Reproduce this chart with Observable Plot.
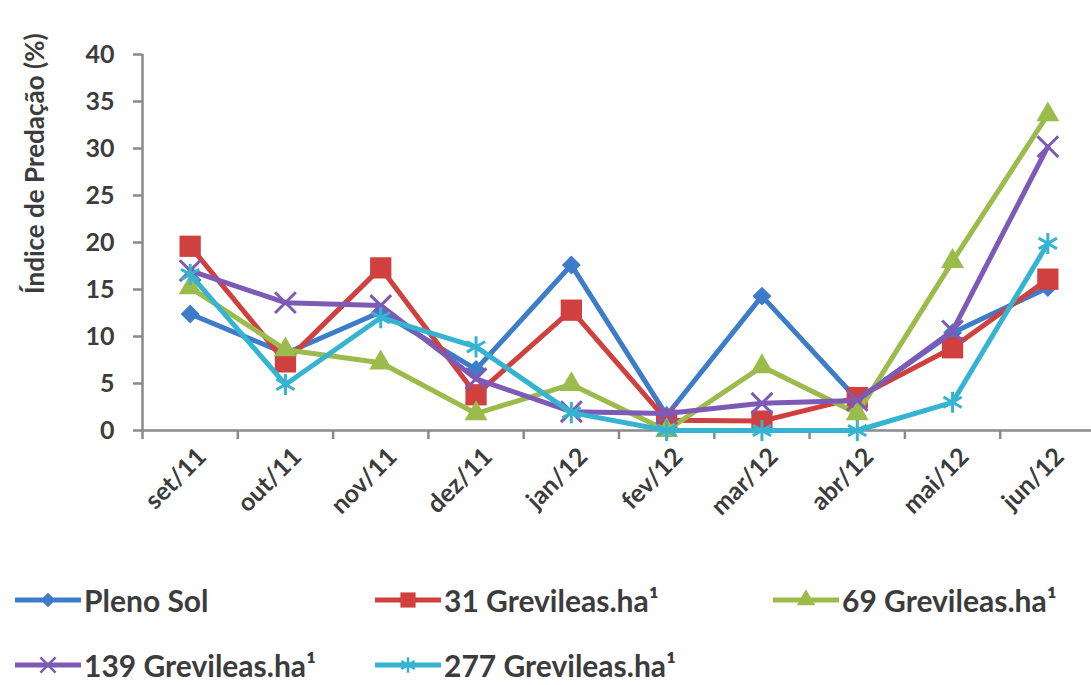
<!DOCTYPE html>
<html><head><meta charset="utf-8">
<script src="https://cdn.jsdelivr.net/npm/d3@7"></script>
<script src="https://cdn.jsdelivr.net/npm/@observablehq/plot@0.6"></script>
<style>
body{margin:0;background:#fff;font-family:Lato,"Open Sans",sans-serif;}
#wrap{position:relative;width:1091px;height:685px;overflow:hidden;background:#fff;}
#chart{position:absolute;left:0;top:0;}
#ytitle{position:absolute;left:20px;top:16px;height:278px;line-height:28px;writing-mode:vertical-rl;transform:rotate(180deg);font-size:26px;font-weight:700;color:#3c3c3c;white-space:nowrap;}
.leg{position:absolute;display:flex;align-items:center;font-size:30px;font-weight:700;color:#3c3c3c;white-space:nowrap;}
.leg svg{display:block;margin-right:3px;}
</style></head>
<body><div id="wrap"><div id="chart"></div><div id="ytitle">Índice de Predação (%)</div><div id="legend"></div></div>
<script>
const months = ["set/11","out/11","nov/11","dez/11","jan/12","fev/12","mar/12","abr/12","mai/12","jun/12"];
const seriesNames = ["Pleno Sol","31 Grevileas.ha¹","69 Grevileas.ha¹","139 Grevileas.ha¹","277 Grevileas.ha¹"];
const plenoSol = [12.4, 8.2, 12.6, 6.5, 17.6, 1.6, 14.3, 3.3, 10.4, 15.2];
const grev31   = [19.6, 7.3, 17.3, 3.8, 12.8, 1.1, 1.0, 3.5, 8.8, 16.1];
const grev69   = [15.2, 8.6, 7.2, 1.8, 4.9, 0.0, 6.8, 1.8, 18.0, 33.6];
const grev139  = [17.0, 13.6, 13.3, 5.5, 2.0, 1.8, 2.9, 3.2, 10.6, 30.2];
const grev277  = [16.6, 4.9, 12.0, 8.9, 1.9, 0.0, 0.0, 0.0, 3.0, 19.9];
const yTicks = [0, 5, 10, 15, 20, 25, 30, 35, 40];

const seriesValues = [plenoSol, grev31, grev69, grev139, grev277];
const colors = ["#3d7cc9", "#d0403f", "#9bbb4a", "#7d5ab5", "#35b4d2"];
const symbols = ["diamond2", "square", "triangle", "times", "asterisk"];
const d3symbols = [d3.symbolDiamond2, d3.symbolSquare, d3.symbolTriangle, d3.symbolTimes, d3.symbolAsterisk];
const filled = [true, true, true, false, false];
const radius = [8.5, 12, 8.5, 9.5, 10];

const rows = [];
seriesNames.forEach((s, k) => seriesValues[k].forEach((v, i) => rows.push({series: s, k, i, v})));

const axisColor = "#8a8a8a";
const marks = [
  Plot.ruleY([0], {stroke: axisColor, strokeWidth: 2.5}),
  Plot.ruleX([-0.5], {stroke: axisColor, strokeWidth: 2.5}),
  Plot.axisY({ticks: yTicks, tickSize: 9, tickPadding: 19, stroke: axisColor, strokeWidth: 2.5, fill: "#3c3c3c", label: null}),
  Plot.axisX({ticks: d3.range(11).map(i => i - 0.5), tickSize: 9, tickFormat: () => "", stroke: axisColor, strokeWidth: 2.5, label: null}),
  Plot.axisX({ticks: d3.range(10), tickSize: 0, tickPadding: 22, tickRotate: -45, dx: 12, tickFormat: i => months[i], fill: "#3c3c3c", label: null})
];
seriesNames.forEach((s, k) => {
  const d = rows.filter(r => r.k === k);
  marks.push(Plot.line(d, {x: "i", y: "v", stroke: colors[k], strokeWidth: 5, strokeLinejoin: "round"}));
  if (filled[k]) marks.push(Plot.dot(d, {x: "i", y: "v", symbol: () => symbols[k], r: radius[k], fill: colors[k], stroke: "none"}));
  else marks.push(Plot.dot(d, {x: "i", y: "v", symbol: () => symbols[k], r: radius[k], stroke: colors[k], strokeWidth: 3, fill: "none"}));
});

const chart = Plot.plot({
  width: 1091, height: 560,
  marginLeft: 142, marginRight: 0, marginTop: 54, marginBottom: 130,
  style: {fontFamily: "Lato, sans-serif", fontSize: "25px", fontWeight: 700, background: "#fff", overflow: "visible"},
  x: {type: "linear", domain: [-0.5, 9.5], range: [142, 1095]},
  y: {domain: [0, 40], range: [430, 54]},
  symbol: {type: "identity"},
  marks
});
document.getElementById("chart").appendChild(chart);

// legend
const legPos = [[15, 600], [375, 600], [773, 600], [15, 665], [375, 665]];
const legSize = [130, 230, 150, 150, 170];
const legend = document.getElementById("legend");
seriesNames.forEach((s, k) => {
  const div = document.createElement("div");
  div.className = "leg";
  div.style.left = legPos[k][0] + "px";
  div.style.top = (legPos[k][1] - 20) + "px";
  const svg = d3.create("svg").attr("width", 66).attr("height", 40);
  svg.append("line").attr("x1", 0).attr("x2", 66).attr("y1", 20).attr("y2", 20)
     .attr("stroke", colors[k]).attr("stroke-width", 5);
  const p = svg.append("path").attr("transform", "translate(33,20)")
     .attr("d", d3.symbol(d3symbols[k], legSize[k])());
  if (filled[k]) p.attr("fill", colors[k]); else p.attr("fill", "none").attr("stroke", colors[k]).attr("stroke-width", 2.5);
  div.appendChild(svg.node());
  const span = document.createElement("span");
  span.textContent = s;
  div.appendChild(span);
  legend.appendChild(div);
});
</script>
</body></html>
